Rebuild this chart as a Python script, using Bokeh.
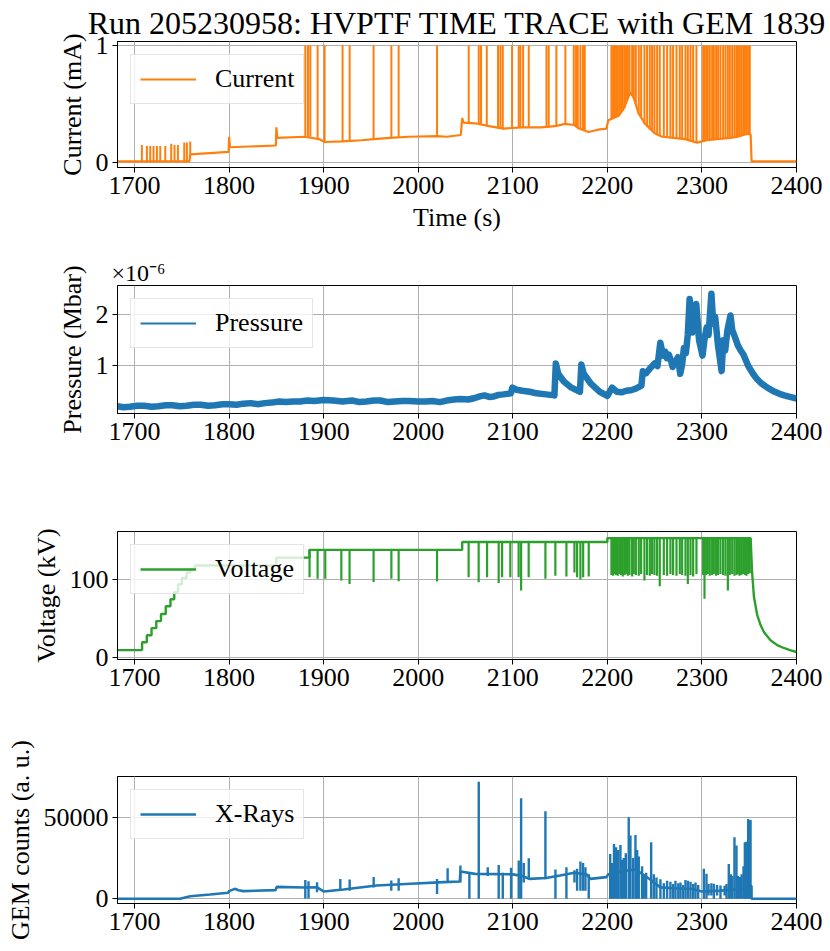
from bokeh.plotting import figure
from bokeh.layouts import column
from bokeh.models import Legend, LegendItem, FixedTicker, Range1d
from bokeh.embed import file_html
from bokeh.resources import INLINE

FONT = "Liberation Serif"
TITLE = "Run 205230958: HVPTF TIME TRACE with GEM 1839"
X_TICKS = [1700, 1800, 1900, 2000, 2100, 2200, 2300, 2400]

# ---------------- Current (mA) ----------------
CUR_T = [1682, 1758, 1759, 1799.5, 1800, 1801, 1849.5, 1850, 1851, 1880, 1895, 1901, 1920, 1940,
         1953, 1970, 1990, 2020, 2030, 2045, 2046.5, 2048, 2060, 2075, 2090, 2110, 2130, 2145,
         2155, 2165, 2170, 2180, 2190, 2199, 2201, 2212, 2218, 2224, 2228, 2233, 2240, 2250,
         2258, 2270, 2282, 2295, 2305, 2316, 2330, 2338, 2348, 2351.5, 2352.5, 2400]
CUR_V = [0.01, 0.01, 0.07, 0.09, 0.22, 0.13, 0.145, 0.30, 0.21, 0.22, 0.20, 0.175, 0.18, 0.19,
         0.20, 0.21, 0.22, 0.225, 0.22, 0.235, 0.38, 0.34, 0.335, 0.31, 0.29, 0.30, 0.30, 0.31,
         0.33, 0.32, 0.29, 0.26, 0.28, 0.29, 0.36, 0.40, 0.47, 0.60, 0.55, 0.42, 0.33, 0.25,
         0.22, 0.21, 0.20, 0.17, 0.19, 0.20, 0.21, 0.22, 0.245, 0.24, 0.01, 0.01]
CUR_SMALL_T = [1707.8, 1713.1, 1716.6, 1720.1, 1723.7, 1727.2, 1732.5, 1738.8, 1742.3, 1745.9,
               1752.6, 1755.4, 1758.9]
CUR_SMALL_TOP = [0.15, 0.14, 0.14, 0.14, 0.14, 0.14, 0.14, 0.16, 0.15, 0.15, 0.17, 0.17, 0.18]
CUR_SMALL_BASE = [0.01, 0.01, 0.01, 0.01, 0.01, 0.01, 0.01, 0.01, 0.01, 0.01, 0.01, 0.01, 0.07]

TRIP_T = [1880.6, 1883.4, 1885.9, 1893.6, 1901.0, 1920.0, 1927.5, 1952.8, 1971.6, 1979.3, 2019.9,
          2053.4, 2064.0, 2066.4, 2072.5, 2084.4, 2086.9, 2089.4, 2099.2, 2106.3, 2108.0, 2110.9,
          2116.9, 2135.6, 2138.0, 2146.1, 2155.6, 2164.5, 2166.9, 2168.7, 2171.5, 2174.3, 2176.1,
          2204.3, 2206.1, 2207.8, 2209.2, 2211.0, 2212.8, 2214.5, 2216.3, 2218.1, 2219.8, 2221.6,
          2223.4, 2226.2, 2227.9, 2230.1, 2233.2, 2235.7, 2239.2, 2242.0, 2244.9, 2247.3, 2249.8,
          2252.6, 2255.4, 2259.7, 2263.2, 2266.7, 2269.5, 2273.1, 2276.6, 2279.1, 2282.6, 2285.1,
          2287.9, 2290.7, 2294.2, 2301.3, 2302.7, 2304.5, 2306.2, 2308.3, 2310.8, 2312.6, 2315.0,
          2317.1, 2319.6, 2322.4, 2324.9, 2327.4, 2329.5, 2332.0, 2334.4, 2336.5, 2338.0, 2339.7,
          2341.5, 2343.6, 2345.4, 2347.1, 2348.9, 2350.6]
TRIP_CUR_BASE = [0.22, 0.22, 0.22, 0.21, 0.18, 0.18, 0.18, 0.20, 0.21, 0.21, 0.22,
                 0.33, 0.33, 0.33, 0.31, 0.29, 0.29, 0.29, 0.29, 0.30, 0.30, 0.30,
                 0.30, 0.30, 0.30, 0.31, 0.33, 0.32, 0.31, 0.30, 0.29, 0.28, 0.27,
                 0.37, 0.38, 0.38, 0.39, 0.40, 0.41, 0.42, 0.44, 0.47, 0.50, 0.54,
                 0.58, 0.58, 0.55, 0.50, 0.42, 0.38, 0.33, 0.31, 0.28, 0.27, 0.25,
                 0.24, 0.23, 0.22, 0.22, 0.21, 0.21, 0.21, 0.20, 0.20, 0.20, 0.19,
                 0.19, 0.18, 0.17, 0.18, 0.18, 0.19, 0.19, 0.19, 0.20, 0.20, 0.20,
                 0.20, 0.20, 0.20, 0.20, 0.21, 0.21, 0.21, 0.21, 0.22, 0.22, 0.22,
                 0.23, 0.23, 0.24, 0.24, 0.245, 0.245]
TRIP_CUR_TOP = 1.0

# ---------------- Pressure (x 1e-6 Mbar) ----------------
PRES_T = [1682, 1688, 1695, 1703, 1710, 1718, 1725, 1733, 1740, 1748, 1755, 1763, 1770, 1778,
          1785, 1793, 1800, 1808, 1815, 1823, 1830, 1838, 1845, 1853, 1860, 1868, 1875, 1883,
          1890, 1900, 1910, 1920, 1930, 1938, 1945, 1953, 1960, 1968, 1975, 1983, 1990, 2000,
          2008, 2015, 2023, 2030, 2038, 2045, 2053, 2060, 2065, 2070, 2075, 2080, 2085, 2090,
          2098, 2099.5, 2104, 2110, 2118, 2125, 2135, 2144, 2145.5, 2148, 2154, 2162, 2171,
          2172.5, 2175, 2182, 2192, 2200, 2205, 2210, 2215, 2220, 2225, 2230, 2236, 2237.5, 2241,
          2245, 2250, 2253, 2256, 2259, 2261, 2263, 2265, 2267, 2269, 2271, 2274.7, 2277, 2279,
          2281, 2283, 2285, 2287, 2289, 2290, 2292, 2294, 2297, 2300.6, 2303, 2305, 2307, 2310,
          2312, 2314, 2317, 2320.8, 2322.6, 2324.6, 2327, 2330.2, 2332, 2334.9, 2338, 2341,
          2344, 2349, 2354, 2358, 2363, 2370, 2377, 2382, 2387, 2393, 2400]
PRES_V = [0.22, 0.20, 0.21, 0.23, 0.23, 0.21, 0.22, 0.24, 0.24, 0.22, 0.23, 0.25, 0.25, 0.23,
          0.24, 0.26, 0.26, 0.25, 0.27, 0.28, 0.26, 0.28, 0.29, 0.31, 0.30, 0.31, 0.31, 0.33,
          0.32, 0.34, 0.33, 0.31, 0.33, 0.30, 0.31, 0.33, 0.33, 0.30, 0.31, 0.32, 0.32, 0.31,
          0.31, 0.32, 0.30, 0.33, 0.35, 0.36, 0.35, 0.38, 0.41, 0.43, 0.40, 0.41, 0.44, 0.45,
          0.47, 0.58, 0.54, 0.52, 0.50, 0.47, 0.45, 0.43, 1.05, 0.85, 0.70, 0.58, 0.50,
          1.03, 0.85, 0.67, 0.50, 0.42, 0.58, 0.50, 0.49, 0.52, 0.53, 0.56, 0.62, 0.90, 0.86,
          0.95, 1.05, 1.00, 1.45, 1.20, 1.28, 1.15, 1.22, 1.12, 0.98, 1.05, 1.17, 0.85, 1.02,
          1.35, 1.25, 1.60, 2.30, 1.90, 1.65, 1.85, 2.20, 1.50, 1.20, 1.55, 1.75, 1.60, 2.40,
          1.82, 1.95, 1.40, 0.90, 1.50, 1.30, 1.70, 1.98, 1.70, 1.56, 1.40, 1.30,
          1.22, 1.00, 0.85, 0.75, 0.66, 0.57, 0.50, 0.46, 0.43, 0.40, 0.37]

# ---------------- Voltage (kV) ----------------
VOLT_T = [1682, 1708, 1708, 1713, 1713, 1718, 1718, 1723, 1723, 1728, 1728, 1733, 1733, 1738,
          1738, 1742, 1742, 1746, 1746, 1750, 1750, 1755, 1755, 1759, 1759, 1764, 1764, 1850,
          1850, 1885, 1885, 2046.5, 2046.5, 2200, 2200, 2351.5, 2353, 2355, 2358.4, 2362,
          2365.5, 2372.5, 2380, 2386.6, 2393, 2400]
VOLT_V = [10, 10, 20, 20, 29, 29, 38, 38, 47, 47, 56, 56, 66, 66, 75, 75, 84, 84, 94, 94, 102,
          102, 109, 109, 114, 114, 118, 118, 128, 128, 138, 138, 148, 148, 153, 153, 110, 78,
          55, 42, 33, 22.5, 16, 12.7, 10, 7.6]
VOLT_DIP_T = [1885.1, 1893.6, 1901.7, 1918.7, 1927.4, 1952.8, 1971.6, 1979.3, 2019.9, 2053.3,
              2063.9, 2072.8, 2085.1, 2088.7, 2097.4, 2106.2, 2108.8, 2116.8, 2134.5, 2145.0,
              2156.7, 2165.2, 2168.0, 2171.5, 2174.4, 2180.3]
VOLT_DIP_BASE = [138, 138, 138, 138, 138, 138, 138, 138, 138, 148, 148, 148, 148, 148, 148,
                 148, 148, 148, 148, 148, 148, 148, 148, 148, 148, 148]
VOLT_DIP_LOW = [103, 101, 101, 99, 94.5, 97, 101, 98, 97.5, 103, 96.6, 103, 95.8, 103, 103,
                103, 86, 103, 101, 105, 104, 109, 103, 100, 103, 104]
DENSE_T = TRIP_T[33:]
VOLT_DENSE_BASE = 153
VOLT_DENSE_LOW = [106, 105, 107, 106, 105, 107, 106, 104, 106, 107, 105, 106, 104, 107, 106,
                  105, 107, 98.7, 106, 105, 107, 106, 105, 91.5, 106, 105, 107, 106, 105, 107,
                  106, 105, 94.5, 106, 104, 107, 106, 75.4, 106, 107, 105, 106, 107, 105, 106,
                  107, 106, 105, 86, 106, 107, 105, 106, 107, 105, 106, 107, 106, 105, 107, 108]

# ---------------- X-Rays (GEM counts) ----------------
XR_T = [1682, 1748, 1759, 1780, 1799, 1800, 1806, 1810, 1815, 1849, 1850.5, 1879, 1893, 1900,
        1921, 1956, 1992, 2027, 2044, 2044.6, 2060, 2100, 2110, 2118, 2135, 2150, 2165, 2178,
        2182, 2199, 2201, 2215, 2230, 2245, 2256, 2270, 2290, 2300, 2320, 2340, 2352.4, 2352.5,
        2400]
XR_V = [0, 0, 1600, 2650, 3700, 4700, 6100, 5300, 4700, 5300, 7300, 6900, 7000, 4500, 5700,
        8200, 9200, 10200, 10600, 16700, 15300, 15000, 14000, 12200, 12800, 14300, 16000, 15000,
        12200, 13300, 15000, 17000, 18000, 12000, 7000, 6500, 6000, 4500, 5000, 6000, 8000, 0, 0]
XR_SPK_T = [1880.6, 1884.0, 1893.0, 1917.6, 1927.5, 1952.9, 1971.5, 1979.3, 2019.9, 2031.1,
            2044.6, 2054.1, 2064.0, 2073.5, 2085.1, 2089.4, 2098.2, 2106.3, 2108.8, 2111.6,
            2116.9, 2134.5, 2145.1, 2156.7, 2165.2, 2168.0, 2171.5, 2174.3, 2176.8, 2180.3,
            2203.0, 2205.0, 2207.0, 2209.2, 2211.4, 2213.8, 2215.5, 2217.4, 2219.5, 2222.6,
            2224.4, 2227.2, 2229.7, 2231.5, 2233.2, 2236.7, 2238.5, 2241.0, 2246.3, 2249.1,
            2251.9, 2256.1, 2259.7, 2263.2, 2266.7, 2269.5, 2272.0, 2275.0, 2277.3, 2280.0,
            2282.6, 2285.1, 2287.9, 2290.7, 2293.2, 2296.0, 2302.0, 2304.8, 2307.0, 2310.0,
            2312.6, 2316.0, 2319.6, 2324.0, 2326.0, 2328.4, 2330.5, 2332.0, 2334.4, 2336.5,
            2338.0, 2340.1, 2342.0, 2344.0, 2345.4, 2347.0, 2348.9, 2350.0, 2351.4]
XR_SPK_LOW = [200, 200, 4000, 5000, 5000, 7000, 5000, 5000, 3000, 10000,
              10000, 0, 0, 14000, 0, 0, 0, 0, 0, 10000,
              12000, 12000, 0, 0, 10000, 5000, 5000, 5000, 5000, 0,
              0, 0, 0, 0, 0, 0, 0, 0, 0, 0,
              0, 0, 0, 0, 0, 0, 0, 0, 0, 0,
              0, 0, 0, 0, 0, 0, 0, 0, 0, 0,
              0, 0, 0, 0, 0, 0, 0, 0, 2000, 2000,
              0, 2000, 0, 2000, 0, 0, 0, 0, 0, 0,
              0, 0, 0, 0, 0, 0, 0, 0, 0]
XR_SPK_HIGH = [11600, 10800, 10200, 12200, 11800, 13300, 11200, 12600, 12200, 18800,
               20400, 16000, 71800, 19400, 20800, 16000, 19000, 23500, 61800, 22000,
               24900, 53700, 18000, 19400, 17500, 18500, 22900, 22000, 19400, 15000,
               27500, 22000, 33700, 31600, 30000, 33000, 24000, 25000, 28000, 50000,
               38800, 25000, 39200, 30000, 26000, 20000, 14000, 16000, 34700, 15000,
               13000, 12000, 9500, 11000, 10500, 9000, 11000, 9500, 10000, 8500,
               11500, 11000, 10500, 9000, 10000, 8500, 18400, 15300, 9000, 9500,
               9200, 8500, 8200, 8000, 9000, 21400, 15000, 14000, 37800, 32700,
               14000, 13300, 15000, 20000, 34700, 35000, 49000, 48000, 48400]

ORANGE = "#ff7f0e"
BLUE = "#1f77b4"
GREEN = "#2ca02c"


def make_fig(height, top, bottom, y_range, y_ticks, ylabel, xlabel=None):
    p = figure(width=830, height=height, x_range=Range1d(1682, 2400), y_range=Range1d(*y_range),
               output_backend="svg", toolbar_location=None,
               min_border_left=117, min_border_right=34, min_border_top=top,
               min_border_bottom=bottom)
    p.xaxis.ticker = FixedTicker(ticks=X_TICKS)
    p.yaxis.ticker = FixedTicker(ticks=y_ticks)
    for ax in (p.xaxis[0], p.yaxis[0]):
        ax.major_label_text_font = FONT
        ax.major_label_text_font_size = "26px"
        ax.major_label_text_color = "black"
        ax.axis_label_text_font = FONT
        ax.axis_label_text_font_size = "26px"
        ax.axis_label_text_font_style = "normal"
        ax.axis_label_text_color = "black"
        ax.axis_label_standoff = 6
        ax.major_tick_out = 5
        ax.major_tick_in = 0
        ax.minor_tick_out = 0
        ax.minor_tick_in = 0
        ax.axis_line_color = "black"
        ax.major_tick_line_color = "black"
        ax.major_label_standoff = 4
    p.yaxis.axis_label = ylabel
    if xlabel:
        p.xaxis.axis_label = xlabel
    p.outline_line_color = "black"
    p.outline_line_width = 1
    p.outline_line_alpha = 1
    p.xgrid.grid_line_color = "#b0b0b0"
    p.ygrid.grid_line_color = "#b0b0b0"
    p.background_fill_color = "white"
    p.border_fill_color = "white"
    return p


def add_legend(p, label, renderer):
    leg = Legend(items=[LegendItem(label=label, renderers=[renderer])], location="top_left",
                 margin=13, padding=9, spacing=0, glyph_width=56, glyph_height=28,
                 label_height=28, label_standoff=19, label_text_font=FONT,
                 label_text_font_size="26px", label_text_color="black",
                 border_line_color="#cccccc", border_line_width=1,
                 background_fill_color="white", background_fill_alpha=0.8)
    p.add_layout(leg)


# Panel 1: current
p1 = make_fig(245, 41, 78, (-0.043, 1.034), [0, 1], "Current (mA)", "Time (s)")
p1.title.text = TITLE
p1.title.align = "center"
p1.title.text_font = FONT
p1.title.text_font_size = "32px"
p1.title.text_font_style = "normal"
p1.title.text_color = "black"
p1.title.standoff = 2
r1 = p1.line(CUR_T, CUR_V, line_color=ORANGE, line_width=2.2)
p1.segment(x0=CUR_SMALL_T, y0=CUR_SMALL_BASE, x1=CUR_SMALL_T, y1=CUR_SMALL_TOP,
           line_color=ORANGE, line_width=2)
p1.segment(x0=TRIP_T, y0=TRIP_CUR_BASE, x1=TRIP_T, y1=[TRIP_CUR_TOP] * len(TRIP_T),
           line_color=ORANGE, line_width=2)
add_legend(p1, "Current", r1)

# Panel 2: pressure
p2 = make_fig(245, 40, 77, (0.079, 2.56), [1, 2], "Pressure (Mbar)")
p2.title.text = "\u00d710\u207b\u2076"
p2.title.align = "left"
p2.title.offset = -6
p2.title.text_font = FONT
p2.title.text_font_size = "24px"
p2.title.text_font_style = "normal"
p2.title.text_color = "black"
p2.title.standoff = 0
p2.line(PRES_T, PRES_V, line_color=BLUE, line_width=6.5, line_join="round")
r2 = p2.line(PRES_T, PRES_V, line_color=BLUE, line_width=2)
add_legend(p2, "Pressure", r2)

# Panel 3: voltage
p3 = make_fig(245, 41, 76, (-2, 161.4), [0, 100], "Voltage (kV)")
r3 = p3.line(VOLT_T, VOLT_V, line_color=GREEN, line_width=2.4)
p3.segment(x0=VOLT_DIP_T, y0=VOLT_DIP_BASE, x1=VOLT_DIP_T, y1=VOLT_DIP_LOW,
           line_color=GREEN, line_width=2.2)
p3.segment(x0=DENSE_T, y0=[VOLT_DENSE_BASE] * len(DENSE_T), x1=DENSE_T, y1=VOLT_DENSE_LOW,
           line_color=GREEN, line_width=2.2)
add_legend(p3, "Voltage", r3)

# Panel 4: X-rays
p4 = make_fig(216, 41, 48, (-2900, 75100), [0, 50000], "GEM counts (a. u.)")
r4 = p4.line(XR_T, XR_V, line_color=BLUE, line_width=2.6)
p4.segment(x0=XR_SPK_T, y0=XR_SPK_LOW, x1=XR_SPK_T, y1=XR_SPK_HIGH,
           line_color=BLUE, line_width=2.4)
add_legend(p4, "X-Rays", r4)

layout = column(p1, p2, p3, p4, spacing=0)
open("out.html", "w").write(file_html(layout, INLINE))
